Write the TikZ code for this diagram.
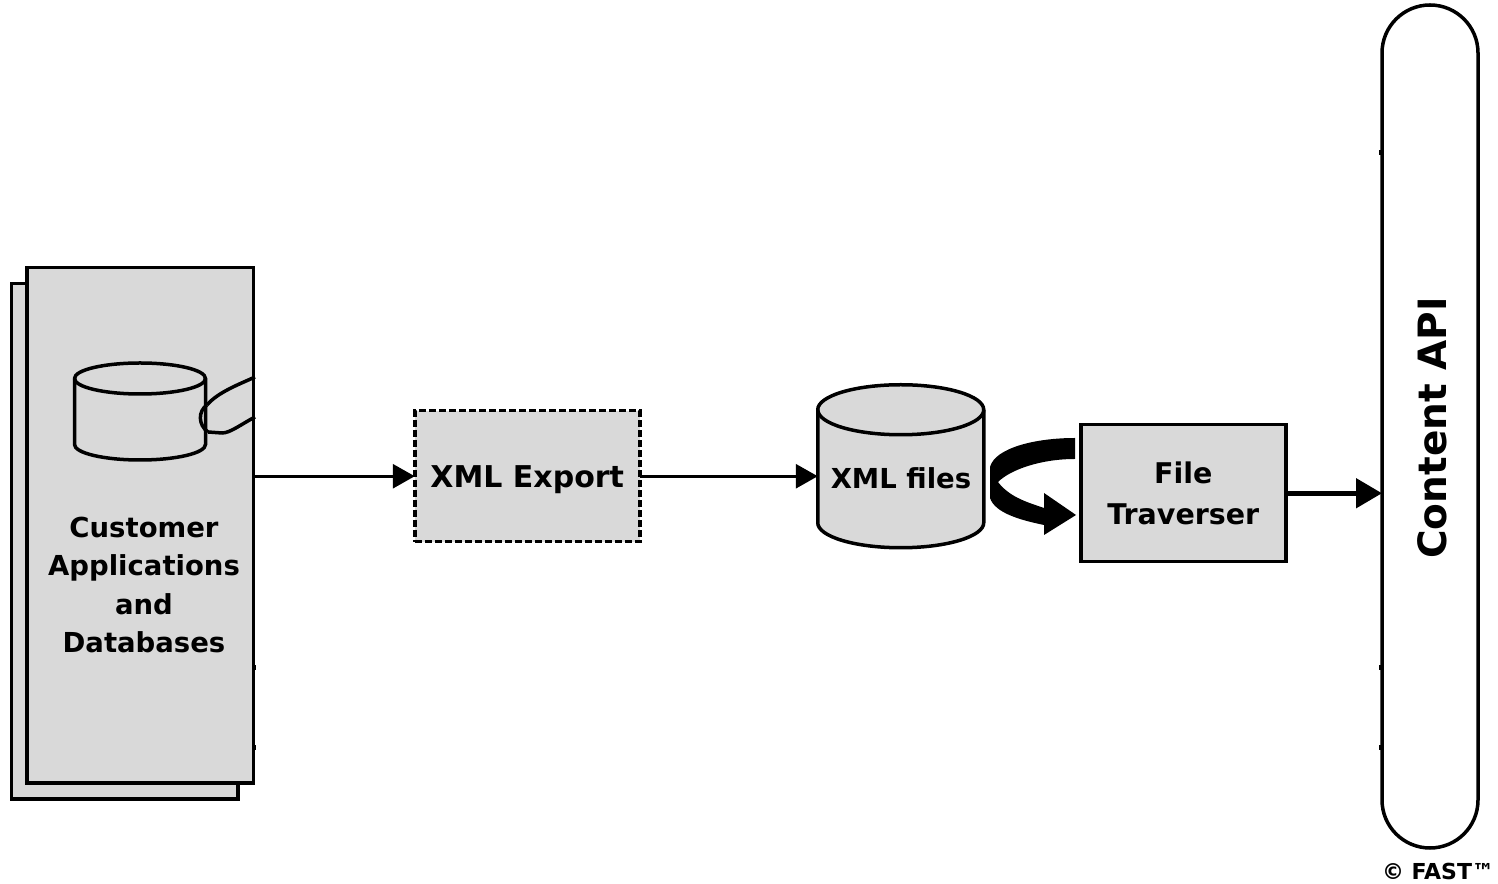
\documentclass[tikz,border=0pt]{standalone}
\usepackage{fontspec}
\setmainfont{DejaVu Sans}
\usetikzlibrary{arrows.meta}
\definecolor{boxgray}{HTML}{D9D9D9}
% body and top ellipse of a store, over the (empty) node #1
\newcommand{\drawstore}[3]{
    \draw [-, fill=boxgray] ([yshift=-#3]#1.north west) arc[start angle=180, end angle=0, x radius=#2, y radius=#3]
        -- ([yshift=#3]#1.south east) arc[start angle=0, end angle=-180, x radius=#2, y radius=#3] -- cycle;
    \draw [-] ([yshift=-#3]#1.north west) arc[start angle=180, end angle=360, x radius=#2, y radius=#3];
}
\begin{document}
\begin{tikzpicture}[x=1pt,y=1pt,->,>={Triangle[length=22pt,width=24pt]},line width=3.5pt,node distance=250pt,
    box node/.style={rectangle,draw,fill=boxgray,outer sep=0pt},
    store node/.style={rectangle,outer sep=0pt,inner sep=0pt},
    main font/.style={font=\fontsize{#1}{41}\selectfont\bfseries,align=center}]
    \useasboundingbox (0,0) rectangle (1498,883);
    \node [box node, -, minimum width=226.5pt, minimum height=515.5pt](back) at (124.75,341.75){};
    \node [box node, -, minimum width=226.5pt, minimum height=515.5pt](customer) at (140.25,357.75){};
    \node [font=\fontsize{27.5}{38.5}\selectfont\bfseries, align=center](customertext) at (144,298){Customer\\Applications\\and\\Databases};
    \node [store node, -, minimum width=131pt, minimum height=97pt](db) at (140,471.5){};
    \drawstore{db}{65.5pt}{15.5pt}

    \node [box node, dash pattern=on 7pt off 3pt, -, minimum width=225pt, minimum height=131pt, main font=30, text depth=0pt](export) [right of=customer, xshift=137, yshift=49]{XML Export};
    \node [store node, -, minimum width=166pt, minimum height=163pt](xmlfiles) [right of=export, xshift=123.5, yshift=10]{};
    \drawstore{xmlfiles}{83pt}{25pt}
    \node [main font=27.5](xmlfilestext) at (901,405){XML files};
    \node [box node, -, minimum width=205pt, minimum height=137pt, main font=28.5](traverser) [right of=xmlfiles, xshift=32.5, yshift=-27]{File\\Traverser};
    \node [box node, -, fill=white, rounded corners=48pt, minimum width=96pt, minimum height=843pt](api) at (1430,456.5){};
    \node [font=\fontsize{39}{40}\selectfont\bfseries, rotate=90](apitext) at (1432,455){Content API};
    \node [font=\fontsize{22}{24}\selectfont\bfseries](copyright) at (1438,12){© FAST™};

    % handle on the small store
    \draw [-] (207,478) .. controls (218,491) and (240,499) .. (255,506);
    \draw [-] (255,466) .. controls (240,458) and (230,450) .. (222,450) -- (208,451);
    \draw [-] (207,478) .. controls (198,472) and (198,458) .. (208,451);

    \path [line width=3pt]
        (customer.east |- export.west) edge (export.west)
        (export.east) edge (export.east -| xmlfiles.west);
    \draw [line width=5pt, >={Triangle[length=26pt,width=29pt]}] (traverser.east) -- (traverser.east -| api.west);

    % turning arrow
    \coordinate (loopstart) at (1075,434.5);
    \coordinate (looptip) at (1076,368);
    \fill [-] (loopstart) -- ++(0,10.5) .. controls (1035,445) and (995,435) .. (990,416) -- (990,385)
        .. controls (995,370) and (1020,363) .. (1044,358) -- (1044,348) -- (looptip) -- (1044,390) -- (1044,375)
        .. controls (1030,380) and (1010,385) .. (998,401) .. controls (1010,413) and (1040,424) .. (1075,424) -- cycle;

    % stray marks on the edges
    \foreach \y in {213,133}
        \fill [-] (customer.east |- 0,\y) rectangle ++(2,5);
    \foreach \y in {728,213,133}
        \fill [-] (api.west |- 0,\y) rectangle ++(-3,5);
\end{tikzpicture}
\end{document}
